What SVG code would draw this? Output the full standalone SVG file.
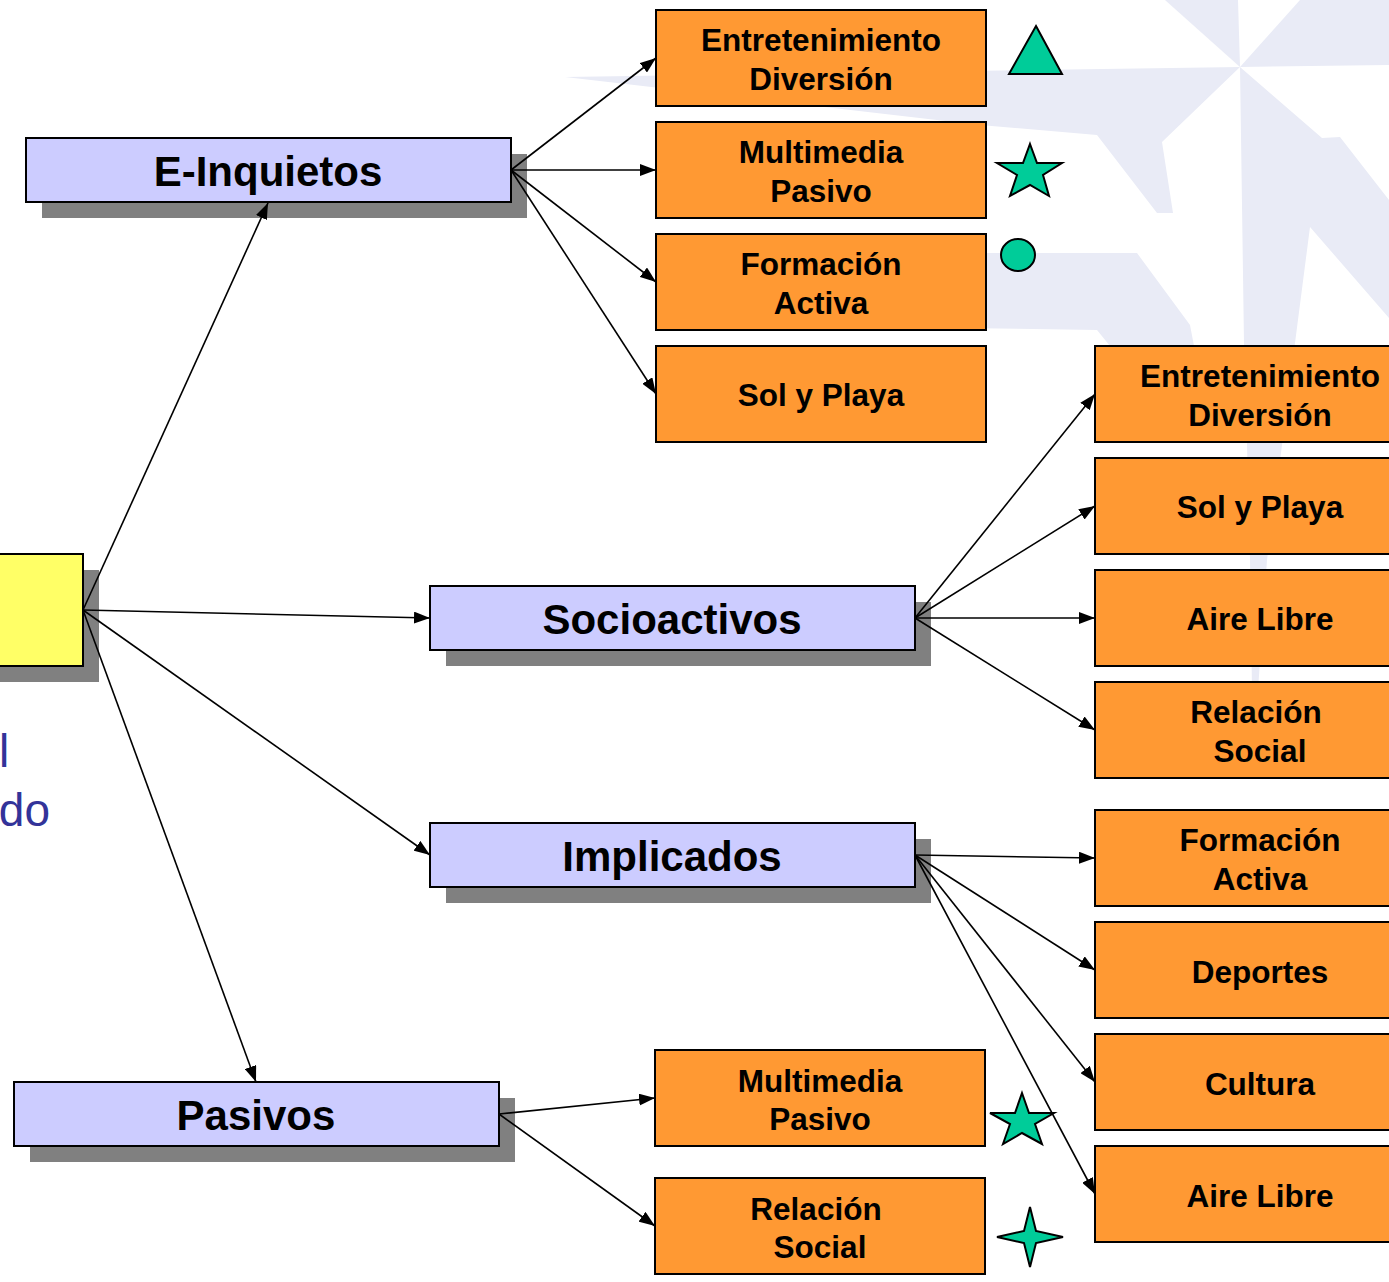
<svg xmlns="http://www.w3.org/2000/svg" width="1389" height="1282" viewBox="0 0 1389 1282">
<defs>
<style>
.wm{fill:#e9ebf6;stroke:none}
.sh{fill:#808080}
.blue{fill:#ccccff;stroke:#000;stroke-width:2}
.org{fill:#ff9933;stroke:#000;stroke-width:2}
.yel{fill:#ffff66;stroke:#000;stroke-width:2}
.bt{font-family:"Liberation Sans",Arial,sans-serif;font-weight:bold;font-size:42px;fill:#000;text-anchor:middle}
.ot{font-family:"Liberation Sans",Arial,sans-serif;font-weight:bold;font-size:31.5px;fill:#000;text-anchor:middle}
.side{font-family:"Liberation Sans",Arial,sans-serif;font-size:46px;fill:#333399}
.sym{fill:#00cc99;stroke:#000;stroke-width:2;stroke-linejoin:miter}
.con line{stroke:#000;stroke-width:1.6;fill:none;marker-end:url(#ah)}
</style>
<marker id="ah" markerUnits="userSpaceOnUse" markerWidth="16" markerHeight="12" refX="16" refY="6" orient="auto">
<path d="M0,0 L16,6 L0,12 z" fill="#000"/>
</marker>
</defs>
<rect width="1389" height="1282" fill="#fff"/>
<g id="watermark">
<polygon class="wm" points="1165,0 1238,0 1240,67"/>
<polygon class="wm" points="1240,67 1300,0 1389,0 1389,65"/>
<polygon class="wm" points="565,77 1240,67 1162,142 1173,213 1157,213 1097,135 980,125"/>
<polygon class="wm" points="960,253 1137,253 1190,325 1194,346 1110,346 1097,330 960,328"/>
<polygon class="wm" points="1240,67 1322,138 1340,137 1389,200 1389,318 1310,227 1295,343 1282,445 1267,560 1258,690 1252,690 1250,560 1247,445 1244,343"/>
</g>
<g id="side-text">
<text class="side" x="-1" y="767">l</text>
<text class="side" x="50" y="826" text-anchor="end">do</text>
</g>
<g id="root">
<rect class="sh" x="-10" y="570" width="109" height="112"/>
<rect class="yel" x="-10" y="554" width="93" height="112"/>
</g>
<g id="e-inquietos">
<rect class="sh" x="42" y="154" width="485" height="64"/>
<rect class="blue" x="26" y="138" width="485" height="64"/>
<text class="bt" x="268" y="186">E-Inquietos</text>
</g>
<g id="socioactivos">
<rect class="sh" x="446" y="602" width="485" height="64"/>
<rect class="blue" x="430" y="586" width="485" height="64"/>
<text class="bt" x="672" y="634">Socioactivos</text>
</g>
<g id="implicados">
<rect class="sh" x="446" y="839" width="485" height="64"/>
<rect class="blue" x="430" y="823" width="485" height="64"/>
<text class="bt" x="672" y="871">Implicados</text>
</g>
<g id="pasivos">
<rect class="sh" x="30" y="1098" width="485" height="64"/>
<rect class="blue" x="14" y="1082" width="485" height="64"/>
<text class="bt" x="256" y="1130">Pasivos</text>
</g>
<g id="ei-entretenimiento">
<rect class="org" x="656" y="10" width="330" height="96"/>
<text class="ot" x="821" y="51">Entretenimiento</text>
<text class="ot" x="821" y="90">Diversión</text>
</g>
<g id="ei-multimedia">
<rect class="org" x="656" y="122" width="330" height="96"/>
<text class="ot" x="821" y="163">Multimedia</text>
<text class="ot" x="821" y="202">Pasivo</text>
</g>
<g id="ei-formacion">
<rect class="org" x="656" y="234" width="330" height="96"/>
<text class="ot" x="821" y="275">Formación</text>
<text class="ot" x="821" y="314">Activa</text>
</g>
<g id="ei-sol">
<rect class="org" x="656" y="346" width="330" height="96"/>
<text class="ot" x="821" y="406">Sol y Playa</text>
</g>
<g id="so-entretenimiento">
<rect class="org" x="1095" y="346" width="330" height="96"/>
<text class="ot" x="1260" y="387">Entretenimiento</text>
<text class="ot" x="1260" y="426">Diversión</text>
</g>
<g id="so-sol">
<rect class="org" x="1095" y="458" width="330" height="96"/>
<text class="ot" x="1260" y="518">Sol y Playa</text>
</g>
<g id="so-aire">
<rect class="org" x="1095" y="570" width="330" height="96"/>
<text class="ot" x="1260" y="630">Aire Libre</text>
</g>
<g id="so-relacion">
<rect class="org" x="1095" y="682" width="330" height="96"/>
<text class="ot" x="1256" y="723">Relación</text>
<text class="ot" x="1260" y="762">Social</text>
</g>
<g id="im-formacion">
<rect class="org" x="1095" y="810" width="330" height="96"/>
<text class="ot" x="1260" y="851">Formación</text>
<text class="ot" x="1260" y="890">Activa</text>
</g>
<g id="im-deportes">
<rect class="org" x="1095" y="922" width="330" height="96"/>
<text class="ot" x="1260" y="983">Deportes</text>
</g>
<g id="im-cultura">
<rect class="org" x="1095" y="1034" width="330" height="96"/>
<text class="ot" x="1260" y="1095">Cultura</text>
</g>
<g id="im-aire">
<rect class="org" x="1095" y="1146" width="330" height="96"/>
<text class="ot" x="1260" y="1207">Aire Libre</text>
</g>
<g id="pa-multimedia">
<rect class="org" x="655" y="1050" width="330" height="96"/>
<text class="ot" x="820" y="1092">Multimedia</text>
<text class="ot" x="820" y="1130">Pasivo</text>
</g>
<g id="pa-relacion">
<rect class="org" x="655" y="1178" width="330" height="96"/>
<text class="ot" x="816" y="1220">Relación</text>
<text class="ot" x="820" y="1258">Social</text>
</g>
<g id="symbols">
<polygon class="sym" points="1036,26 1062,74 1009,74"/>
<polygon class="sym" points="1030,144 1037,163 1062,163 1043,175 1049,196 1030,185 1010,196 1017,175 997,163 1023,163"/>
<ellipse class="sym" cx="1018" cy="255" rx="17" ry="16"/>
<polygon class="sym" points="1022,1093 1029,1113 1054,1113 1035,1124 1042,1144 1022,1133 1003,1144 1010,1124 990,1113 1015,1113"/>
<polygon class="sym" points="1030,1207 1036,1231 1063,1237 1036,1243 1030,1267 1024,1243 997,1237 1024,1231"/>
</g>
<g id="connectors" class="con">
<line x1="83" y1="610" x2="268" y2="203"/>
<line x1="83" y1="610" x2="430" y2="618"/>
<line x1="83" y1="610" x2="430" y2="855"/>
<line x1="83" y1="610" x2="256" y2="1082"/>
<line x1="511" y1="170" x2="656" y2="58"/>
<line x1="511" y1="170" x2="656" y2="170"/>
<line x1="511" y1="170" x2="656" y2="282"/>
<line x1="511" y1="170" x2="656" y2="394"/>
<line x1="915" y1="618" x2="1095" y2="394"/>
<line x1="915" y1="618" x2="1095" y2="506"/>
<line x1="915" y1="618" x2="1095" y2="618"/>
<line x1="915" y1="618" x2="1095" y2="730"/>
<line x1="915" y1="855" x2="1095" y2="858"/>
<line x1="915" y1="855" x2="1095" y2="970"/>
<line x1="915" y1="855" x2="1095" y2="1082"/>
<line x1="915" y1="855" x2="1095" y2="1194"/>
<line x1="499" y1="1114" x2="655" y2="1098"/>
<line x1="499" y1="1114" x2="655" y2="1226"/>
</g>
</svg>
